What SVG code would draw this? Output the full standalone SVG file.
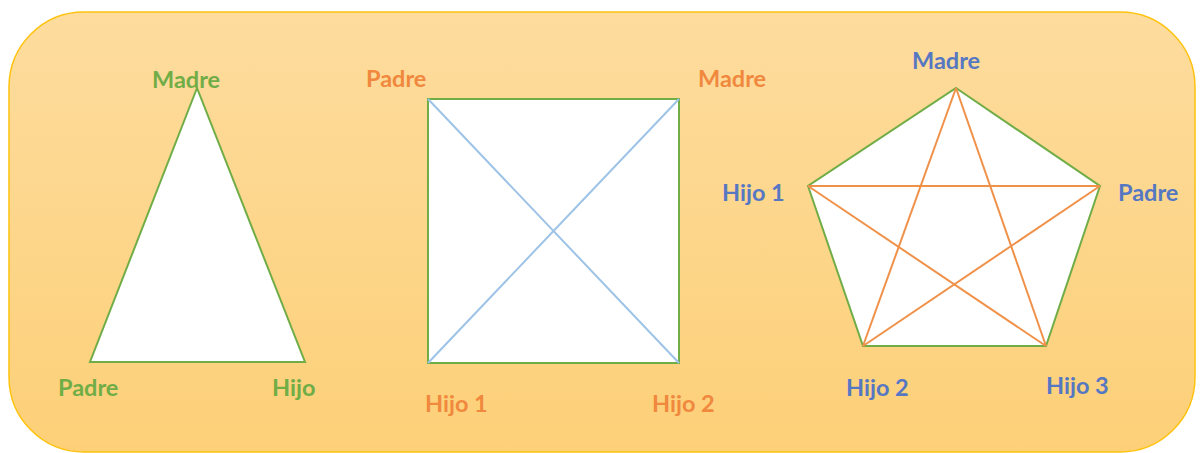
<svg xmlns="http://www.w3.org/2000/svg" width="1200" height="453" viewBox="0 0 1200 453">
<defs>
<linearGradient id="bg" x1="0" y1="0" x2="0" y2="1">
<stop offset="0" stop-color="#FDDC9E"/>
<stop offset="1" stop-color="#FDD078"/>
</linearGradient>
</defs>
<style>
.lbl{font-family:"Lato","Liberation Sans",sans-serif;font-weight:bold;font-size:23.5px}
.g{fill:#70AD47}.o{fill:#F0883E}.b{fill:#5677C2}
.shape{fill:#FFFFFF;stroke:#70AD47;stroke-width:2}
.blue{stroke:#9DC3E6;stroke-width:2;fill:none}
.orng{stroke:#F0914A;stroke-width:2;fill:none}
</style>
<rect id="background" x="9" y="12" width="1186" height="440" rx="75" ry="75" fill="url(#bg)" stroke="#FFC20E" stroke-width="1.5"/>
<g id="triangle"><polygon class="shape" points="197,88 90,362 305,362"/></g>
<g id="square"><rect class="shape" x="428" y="99" width="251" height="264"/></g>
<g id="pentagon"><polygon class="shape" points="956,88 1100,186 1046,346 863,346 808,186"/></g>
<g id="connectors">
<line class="blue" x1="428" y1="99" x2="679" y2="363"/>
<line class="blue" x1="679" y1="99" x2="428" y2="363"/>
<line class="orng" x1="956" y1="88" x2="863" y2="346"/>
<line class="orng" x1="956" y1="88" x2="1046" y2="346"/>
<line class="orng" x1="808" y1="186" x2="1100" y2="186"/>
<line class="orng" x1="808" y1="186" x2="1046" y2="346"/>
<line class="orng" x1="1100" y1="186" x2="863" y2="346"/>
</g>
<g id="t-madre"><text class="lbl g" x="152" y="88">Madre</text></g>
<g id="t-padre"><text class="lbl g" x="58" y="396">Padre</text></g>
<g id="t-hijo"><text class="lbl g" x="272" y="396">Hijo</text></g>
<g id="s-padre"><text class="lbl o" x="366" y="87">Padre</text></g>
<g id="s-madre"><text class="lbl o" x="698" y="87">Madre</text></g>
<g id="s-hijo1"><text class="lbl o" x="425" y="412">Hijo 1</text></g>
<g id="s-hijo2"><text class="lbl o" x="652" y="412">Hijo 2</text></g>
<g id="p-madre"><text class="lbl b" x="912" y="69">Madre</text></g>
<g id="p-hijo1"><text class="lbl b" x="722" y="201">Hijo 1</text></g>
<g id="p-padre"><text class="lbl b" x="1118" y="201">Padre</text></g>
<g id="p-hijo2"><text class="lbl b" x="846" y="396">Hijo 2</text></g>
<g id="p-hijo3"><text class="lbl b" x="1046" y="394">Hijo 3</text></g>
</svg>
